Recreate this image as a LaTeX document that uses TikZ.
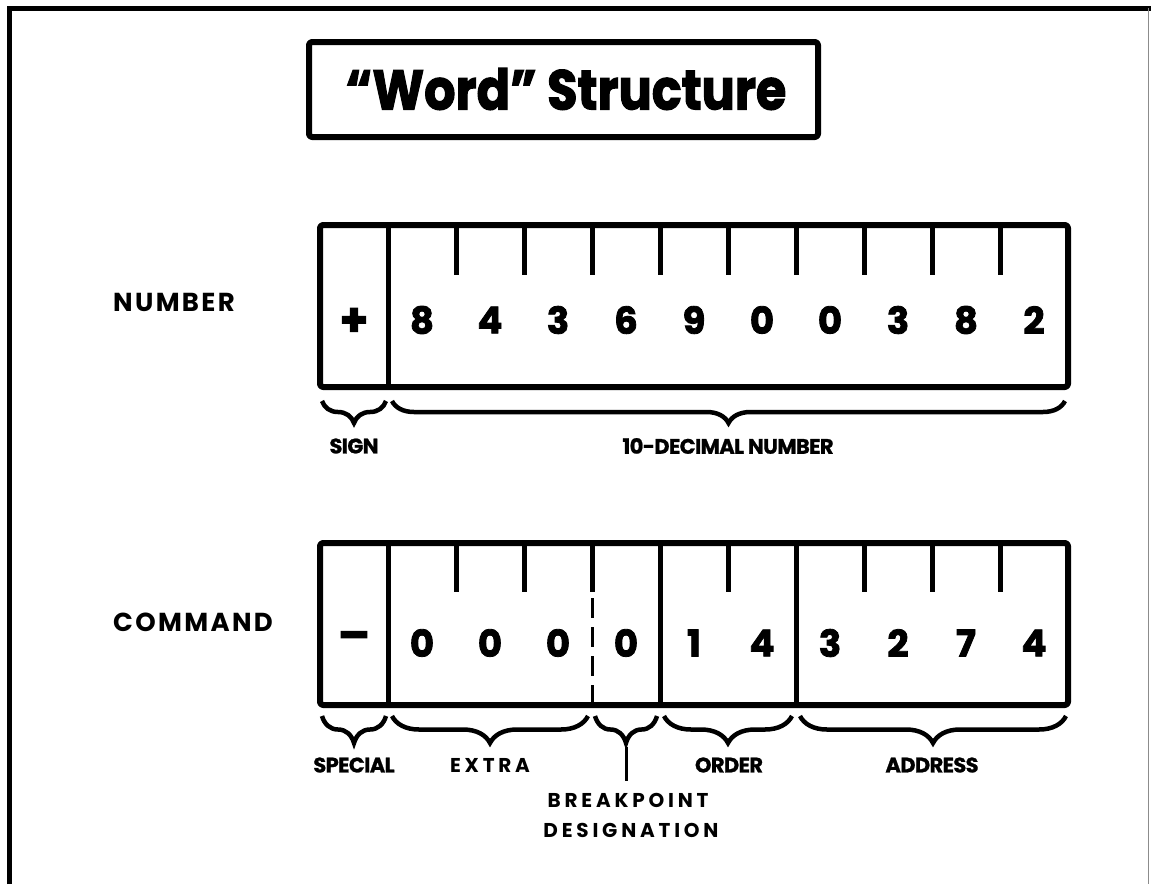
\documentclass[tikz,border=0pt]{standalone}
\usepackage{fontspec}
\newfontfamily\popfont{Poppins}[BoldFeatures={FakeBold=2.2}]
\newfontfamily\boldlabfont{Poppins}[LetterSpace=-3, BoldFeatures={FakeBold=1}]
\newfontfamily\rowfont{Poppins}[LetterSpace=9]
\newfontfamily\spfont{Poppins}[LetterSpace=19]
\usetikzlibrary{decorations.pathreplacing}
\begin{document}
\begin{tikzpicture}[x=1pt,y=1pt,
  boxline/.style={line width=6pt, rounded corners=3pt, line join=round},
  tickline/.style={line width=5pt},
  dashline/.style={line width=3pt, dash pattern=on 20pt off 9pt},
  digit/.style={font=\popfont\bfseries\fontsize{37}{37}\selectfont, inner sep=0pt},
  signchar/.style={font=\popfont\bfseries\fontsize{46}{46}\selectfont, inner sep=0pt},
  rowlabel/.style={font=\rowfont\bfseries\fontsize{26}{26}\selectfont, inner sep=0pt, anchor=west},
  boldlabel/.style={font=\boldlabfont\bfseries\fontsize{21}{21}\selectfont, inner sep=0pt},
  thinlabel/.style={font=\spfont\bfseries\fontsize{20}{20}\selectfont, inner sep=0pt},
  bracea/.style={decorate, decoration={brace, mirror, amplitude=22pt}, line width=4.5pt},
  braceb/.style={decorate, decoration={brace, mirror, amplitude=27pt}, line width=4.5pt}]
\useasboundingbox (0,0) rectangle (1151,-884);

% outer frame
\draw[line width=5pt] (9,-884) -- (9,-8) -- (1151,-8);
\draw[line width=1pt, black!45] (1148,-8) -- (1148,-884);

% title
\draw[boxline] (309,-42) rectangle (818,-137);
\node[font=\popfont\bfseries\fontsize{56}{56}\selectfont, inner sep=0pt] (title) at (566,-89)
  {\scalebox{0.88}[1]{“Word” Structure}};

% ---------- number word ----------
\node[rowlabel] (numlabel) at (113,-302) {NUMBER};
\draw[boxline] (320,-225) rectangle (1068,-387);
\draw[line width=5pt] (388,-225) -- (388,-387);
\foreach \k in {1,...,9}
  \draw[tickline] ({388+68*\k},-225) -- ({388+68*\k},-275);
\node[signchar] (nsign) at (354,-322) {+};
\foreach \d [count=\i from 0] in {8,4,3,6,9,0,0,3,8,2}
  \node[digit] (n\i) at ({422+68*\i},-320) {\d};

\coordinate (sa) at (322,-401); \coordinate (sb) at (386,-401);
\coordinate (da) at (392,-401); \coordinate (db) at (1065,-401);
\draw[bracea] (sa) -- (sb);
\draw[bracea] (da) -- (db);
\node[boldlabel] (sign) at (354,-446) {SIGN};
\node[boldlabel] (dec) at (728,-446) {10-DECIMAL NUMBER};

% ---------- command word ----------
\node[rowlabel] (cmdlabel) at (113,-622) {COMMAND};
\draw[boxline] (320,-543) rectangle (1068,-705);
\foreach \x in {388,660,796}
  \draw[line width=5pt] (\x,-543) -- (\x,-705);
\foreach \x in {456,524,592,728,864,932,1000}
  \draw[tickline] (\x,-543) -- (\x,-592);
\draw[dashline] (592,-598) -- (592,-705);
\node[signchar] (csign) at (354,-641) {–};
\foreach \d [count=\i from 0] in {0,0,0,0,1,4,3,2,7,4}
  \node[digit] (c\i) at ({422+68*\i},-643) {\d};

\coordinate (pa) at (322,-716); \coordinate (pb) at (386,-716);
\coordinate (ea) at (392,-716); \coordinate (eb) at (588,-716);
\coordinate (ba) at (595,-716); \coordinate (bb) at (657,-716);
\coordinate (oa) at (664,-716); \coordinate (ob) at (792,-716);
\coordinate (aa) at (800,-716); \coordinate (ab) at (1066,-716);
\draw[braceb] (pa) -- (pb);
\draw[braceb] (ea) -- (eb);
\draw[braceb] (ba) -- (bb);
\draw[braceb] (oa) -- (ob);
\draw[braceb] (aa) -- (ab);

\node[boldlabel] (special) at (354,-765) {SPECIAL};
\node[thinlabel] (extra) at (490,-765) {EXTRA};
\node[boldlabel] (order) at (729,-765) {ORDER};
\node[boldlabel] (address) at (932,-765) {ADDRESS};
\node[thinlabel] (bp1) at (628,-800) {BREAKPOINT};
\node[thinlabel] (bp2) at (631,-830) {DESIGNATION};
\coordinate (bptop) at (626,-747);
\coordinate (bpbot) at (626,-781);
\draw[line width=3pt] (bptop) -- (bpbot);
\end{tikzpicture}
\end{document}
